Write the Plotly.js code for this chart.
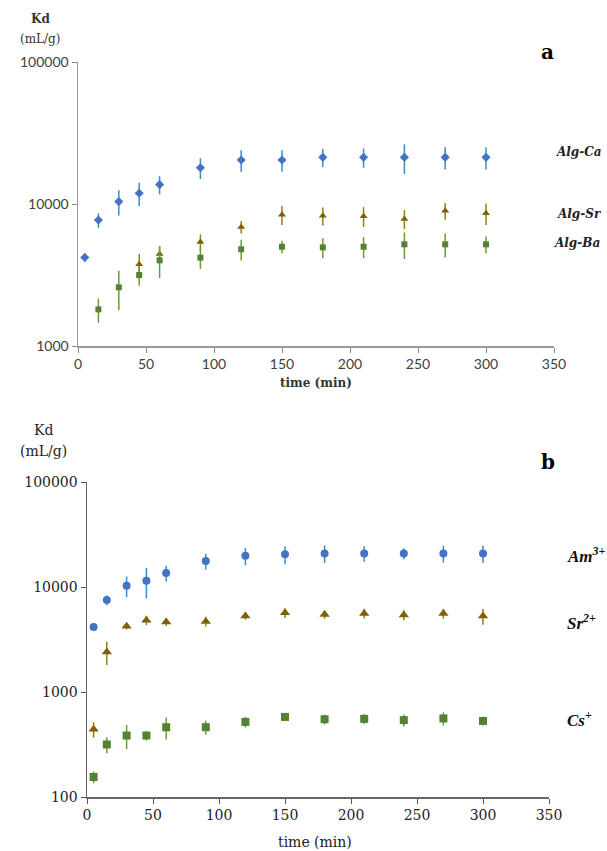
<!DOCTYPE html>
<html>
<head>
<meta charset="utf-8">
<script src="https://cdn.plot.ly/plotly-3.0.1.min.js"></script>
<style>html,body{margin:0;padding:0;background:#fff;}#chart{width:607px;height:851px;}</style>
</head>
<body>
<div id="chart"></div>
<script>
// ---- Panel a data ----
const timeA = [5, 15, 30, 45, 60, 90, 120, 150, 180, 210, 240, 270, 300];
const algCa = [4200, 7700, 10400, 11900, 13700, 18000, 20400, 20400, 21300, 21300, 21300, 21300, 21300];
const algCaErr = [300, 900, 2100, 2200, 2000, 3000, 3500, 3500, 3100, 3300, 5000, 3800, 3800];
const timeSr = [45, 60, 90, 120, 150, 180, 210, 240, 270, 300];
const algSr = [3760, 4440, 5400, 6900, 8400, 8250, 8200, 7850, 8950, 8600];
const algSrErr = [700, 600, 700, 700, 1300, 1200, 1300, 1200, 1200, 1500];
const timeBa = [15, 30, 45, 60, 90, 120, 150, 180, 210, 240, 270, 300];
const algBa = [1810, 2590, 3160, 4010, 4190, 4800, 5000, 4950, 5000, 5200, 5200, 5200];
const algBaErr = [350, 800, 500, 1000, 700, 800, 500, 800, 850, 1100, 1000, 700];

// ---- Panel b data ----
const timeB = [5, 15, 30, 45, 60, 90, 120, 150, 180, 210, 240, 270, 300];
const am = [4170, 7500, 10300, 11500, 13600, 17700, 19800, 20500, 20900, 20900, 20900, 20900, 20900];
const amErr = [150, 800, 2300, 3700, 2300, 3000, 3700, 4000, 4000, 3500, 2500, 3800, 4000];
const sr = [442, 2410, 4240, 4830, 4650, 4700, 5280, 5680, 5480, 5600, 5420, 5600, 5280];
const srErr = [75, 600, 300, 500, 400, 500, 400, 600, 500, 600, 600, 600, 900];
const cs = [155, 316, 385, 385, 462, 462, 519, 579, 550, 555, 540, 560, 530];
const csErr = [20, 55, 100, 40, 110, 70, 60, 50, 60, 60, 70, 80, 50];

// ---- Tick labels ----
const xTicks = [0, 50, 100, 150, 200, 250, 300, 350];
const xTickText = ['0', '50', '100', '150', '200', '250', '300', '350'];
const yTicksA = [1000, 10000, 100000];
const yTickTextA = ['1000', '10000', '100000'];
const yTicksB = [100, 1000, 10000, 100000];
const yTickTextB = ['100', '1000', '10000', '100000'];

const labelsA = ['Alg-Ca', 'Alg-Sr', 'Alg-Ba'];
const labelsB = ['Am<sup>3+</sup>', 'Sr<sup>2+</sup>', 'Cs<sup>+</sup>'];

const blue = '#4472c4', blueErr = '#3a8cc4';
const brown = '#7f6000', brownErr = '#9a7d10';
const green = '#548235', greenErr = '#6a9a3a';

function tr(x, y, err, color, ecolor, symbol, size, xa, ya) {
  return {
    x: x, y: y, type: 'scatter', mode: 'markers', xaxis: xa, yaxis: ya,
    marker: {color: color, symbol: symbol, size: size},
    error_y: {type: 'data', array: err, visible: true, color: ecolor, thickness: 1.5, width: 0},
    showlegend: false, hoverinfo: 'x+y'
  };
}

const data = [
  tr(timeA, algCa, algCaErr, blue, blueErr, 'diamond', 7, 'x', 'y'),
  tr(timeSr, algSr, algSrErr, brown, brownErr, 'triangle-up', 7, 'x', 'y'),
  tr(timeBa, algBa, algBaErr, green, greenErr, 'square', 6, 'x', 'y'),
  tr(timeB, am, amErr, blue, blueErr, 'circle', 8, 'x2', 'y2'),
  tr(timeB, sr, srErr, brown, brownErr, 'triangle-up', 9, 'x2', 'y2'),
  tr(timeB, cs, csErr, green, greenErr, 'square', 8, 'x2', 'y2')
];

const sansTick = {family: 'Lato, "Open Sans", sans-serif', size: 14, color: '#404040'};
const serifTick = {family: '"DejaVu Serif", serif', size: 14, color: '#222'};

const layout = {
  width: 607, height: 851,
  margin: {l: 0, r: 0, t: 0, b: 0},
  paper_bgcolor: '#fff', plot_bgcolor: '#fff',
  xaxis: {
    domain: [78/607, 554/607], anchor: 'y', range: [0, 350],
    tickvals: xTicks, ticktext: xTickText, ticks: 'outside', ticklen: 5, tickcolor: '#888',
    showline: true, linecolor: '#999', linewidth: 1.5, showgrid: false, zeroline: false,
    tickfont: sansTick, fixedrange: true
  },
  yaxis: {
    domain: [1 - 346/851, 1 - 62/851], anchor: 'x', type: 'log', range: [3, 5],
    tickvals: yTicksA, ticktext: yTickTextA, ticks: 'outside', ticklen: 5, tickcolor: '#888',
    showline: true, linecolor: '#999', linewidth: 1.5, showgrid: false, zeroline: false,
    tickfont: sansTick, fixedrange: true
  },
  xaxis2: {
    domain: [87/607, 549/607], anchor: 'y2', range: [0, 350],
    tickvals: xTicks, ticktext: xTickText, ticks: 'outside', ticklen: 5, tickcolor: '#555',
    showline: true, linecolor: '#666', linewidth: 1.5, showgrid: false, zeroline: false,
    tickfont: serifTick, fixedrange: true
  },
  yaxis2: {
    domain: [1 - 797/851, 1 - 482/851], anchor: 'x2', type: 'log', range: [2, 5],
    tickvals: yTicksB, ticktext: yTickTextB, ticks: 'outside', ticklen: 5, tickcolor: '#555',
    showline: true, linecolor: '#666', linewidth: 1.5, showgrid: false, zeroline: false,
    tickfont: serifTick, fixedrange: true
  },
  annotations: []
};

function ann(text, x, y, font, xanchor) {
  layout.annotations.push({
    text: text, x: x / 607, y: 1 - y / 851, xref: 'paper', yref: 'paper',
    xanchor: xanchor || 'center', yanchor: 'middle', showarrow: false, font: font
  });
}

const serifTitleA = {family: '"DejaVu Serif", serif', size: 12, color: '#333'};
const serifTitleB = {family: '"DejaVu Serif", serif', size: 14, color: '#222'};
const labA = {family: '"DejaVu Serif", serif', size: 12, color: '#222'};
const labB = {family: '"Liberation Serif", serif', size: 17, color: '#111'};
const panelFont = {family: '"DejaVu Serif", serif', size: 20, color: '#000'};

// Panel a texts
ann('<b>Kd</b>', 40, 19, serifTitleA);
ann('(mL/g)', 40, 39, serifTitleA);
ann('<b>time (min)</b>', 316, 383, serifTitleA);
ann('<b>a</b>', 547, 52, panelFont);
ann('<b><i>' + labelsA[0] + '</i></b>', 604, 152, labA, 'right');
ann('<b><i>' + labelsA[1] + '</i></b>', 604, 214, labA, 'right');
ann('<b><i>' + labelsA[2] + '</i></b>', 602, 243, labA, 'right');

// Panel b texts
ann('Kd', 43, 430, serifTitleB);
ann('(mL/g)', 43, 451, serifTitleB);
ann('time (min)', 315, 842, serifTitleB);
ann('<b>b</b>', 548, 462, panelFont);
ann('<b><i>' + labelsB[0] + '</i></b>', 565, 555, labB, 'left');
ann('<b><i>' + labelsB[1] + '</i></b>', 565, 622, labB, 'left');
ann('<b><i>' + labelsB[2] + '</i></b>', 565, 719, labB, 'left');

Plotly.newPlot('chart', data, layout, {displayModeBar: false, staticPlot: true});
</script>
</body>
</html>
